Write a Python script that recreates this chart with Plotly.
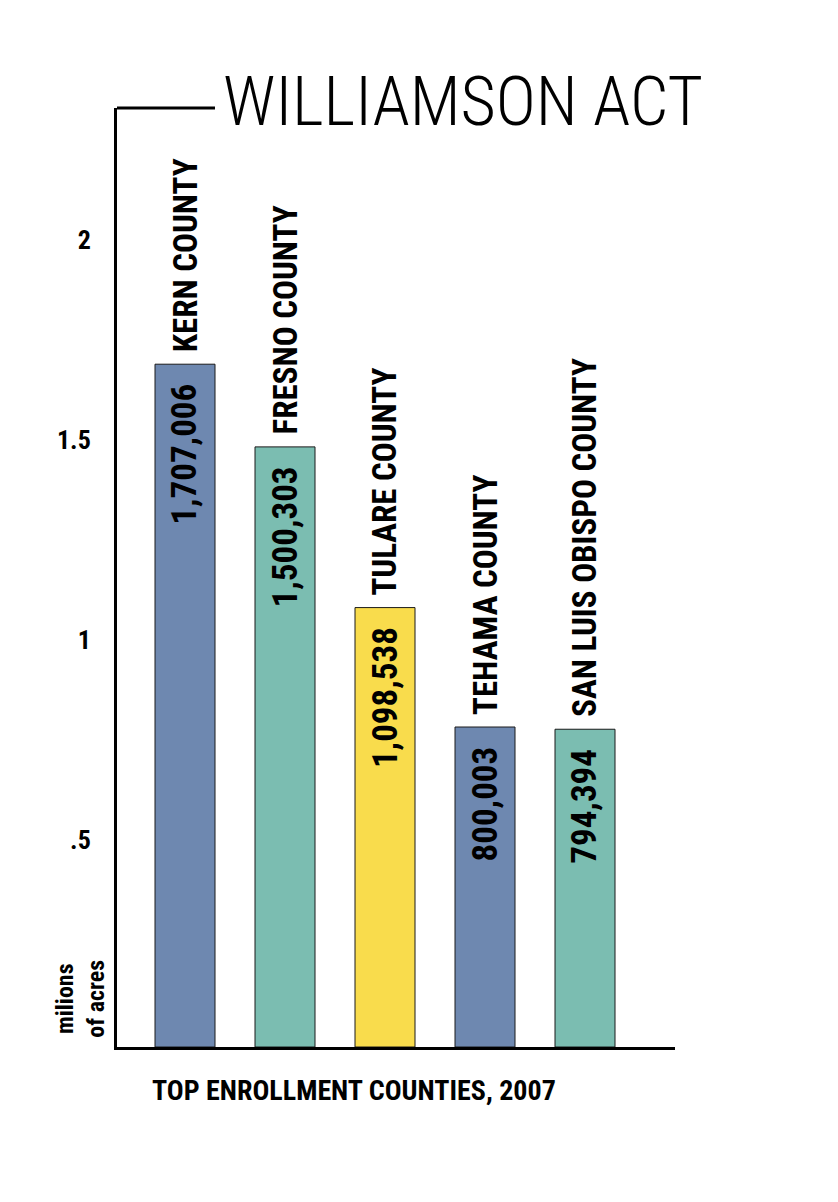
import plotly.graph_objects as go

counties = ["KERN COUNTY", "FRESNO COUNTY", "TULARE COUNTY", "TEHAMA COUNTY", "SAN LUIS OBISPO COUNTY"]
acres = [1707006, 1500303, 1098538, 800003, 794394]
value_labels = ["1,707,006", "1,500,303", "1,098,538", "800,003", "794,394"]
bar_colors = ["#6E88B0", "#7BBDB1", "#F9DC4C", "#6E88B0", "#7BBDB1"]
tick_vals = [0.5, 1.0, 1.5, 2.0]
tick_text = [".5", "1", "1.5", "2"]

millions = [a / 1e6 for a in acres]

COND = "Roboto Condensed, Open Sans Condensed, DejaVu Sans Condensed, sans-serif"

fig = go.Figure()
fig.add_trace(go.Bar(
    x=list(range(len(counties))),
    y=millions,
    marker=dict(color=bar_colors, line=dict(color="#1a1a1a", width=1)),
    width=0.6,
    hoverinfo="skip",
))

ann = []
for i, (c, v, lab) in enumerate(zip(counties, millions, value_labels)):
    ann.append(dict(x=i, y=v, xref="x", yref="y", text=c, textangle=-90,
                    showarrow=False, yanchor="bottom", xanchor="center", yshift=10,
                    font=dict(family=COND, size=33, color="#000000", weight="bold")))
    ann.append(dict(x=i, y=v, xref="x", yref="y", text=lab, textangle=-90,
                    showarrow=False, yanchor="top", xanchor="center", yshift=-18,
                    font=dict(family=COND, size=35, color="#000000", weight="bold")))

ann.append(dict(x=0.186, y=1, xref="paper", yref="paper", text="WILLIAMSON ACT",
                showarrow=False, xanchor="left", yanchor="middle", yshift=6,
                font=dict(family=COND, size=68, color="#000000", weight=300)))
ann.append(dict(x=-0.066, y=0.008, xref="paper", yref="paper", text="milions<br>of acres",
                textangle=-90, showarrow=False, xanchor="center", yanchor="bottom",
                font=dict(family=COND, size=24, color="#000000", weight="bold")))
ann.append(dict(x=0.4256, y=-0.046, xref="paper", yref="paper",
                text="TOP ENROLLMENT COUNTIES, 2007",
                showarrow=False, xanchor="center", yanchor="middle",
                font=dict(family=COND, size=28, color="#000000", weight="bold")))

fig.add_shape(type="line", xref="paper", yref="paper", x0=0, x1=0.1756, y0=1, y1=1,
              line=dict(color="#000000", width=3))

fig.update_layout(
    width=838, height=1202,
    margin=dict(l=117, r=163, t=108, b=155),
    paper_bgcolor="#ffffff", plot_bgcolor="#ffffff",
    showlegend=False,
    annotations=ann,
    xaxis=dict(range=[-0.68, 4.9], showticklabels=False, ticks="", showgrid=False,
               zeroline=False, showline=True, linecolor="#000000", linewidth=3),
    yaxis=dict(range=[0, 2.3475], tickvals=tick_vals, ticktext=tick_text, ticks="",
               showgrid=False, zeroline=False, showline=True, linecolor="#000000",
               linewidth=3, ticklabelstandoff=18, ticklabelshift=-7,
               tickfont=dict(family=COND, size=26, color="#000000", weight="bold")),
)

fig.write_html("out.html")
